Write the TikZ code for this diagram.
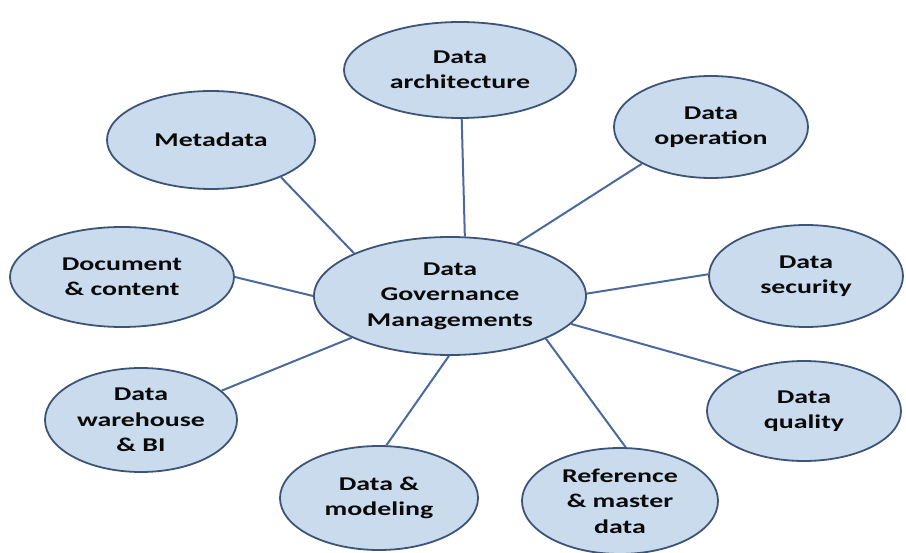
\documentclass[tikz,border=0pt]{standalone}
\usepackage{fontspec}
\newfontfamily\nodefont{Carlito}[FakeStretch=1.43]
\definecolor{ellfill}{HTML}{CADBEE}
\definecolor{elldraw}{HTML}{3D5477}
\definecolor{linkcol}{HTML}{4A6A9E}
\definecolor{txtcol}{HTML}{0A0A0A}
\tikzset{
  topic/.style={ellipse, draw=elldraw, fill=ellfill, line width=1.8pt, inner sep=0pt,
    align=center, text=txtcol, font=\nodefont\bfseries\fontsize{19.5}{25.5}\selectfont},
  link/.style={draw=linkcol, line width=2pt}
}
\usetikzlibrary{shapes.geometric}
\begin{document}
\begin{tikzpicture}[x=1pt,y=-1pt]
\useasboundingbox (0,0) rectangle (906,553);
\node[topic, minimum width=272pt, minimum height=118pt] (c) at (450,296) {Data\\Governance\\Managements};
\node[topic, minimum width=232pt, minimum height=96pt] (arch) at (460,70) {Data\\architecture};
\node[topic, minimum width=208pt, minimum height=98pt] (meta) at (211,140) {Metadata};
\node[topic, minimum width=194pt, minimum height=102pt] (oper) at (711,127) {Data\\operation};
\node[topic, minimum width=224pt, minimum height=100pt] (doc) at (122,277) {Document\\\& content};
\node[topic, minimum width=194pt, minimum height=102pt] (sec) at (806,276) {Data\\security};
\node[topic, minimum width=192pt, minimum height=104pt] (ware) at (141,420) {Data\\warehouse\\\& BI};
\node[topic, minimum width=194pt, minimum height=100pt] (qual) at (804,411) {Data\\quality};
\node[topic, minimum width=198pt, minimum height=104pt] (model) at (379,498) {Data \&\\modeling};
\node[topic, minimum width=196pt, minimum height=106pt] (ref) at (620,501) {Reference\\\& master\\data};
\draw[link] (c.156) -- (meta.-28);
\draw[link] (c.76) -- (arch.-88);
\draw[link] (c.38) -- (oper.208);
\draw[link] (c.180) -- (doc.0);
\draw[link] (c.1) -- (sec.179);
\draw[link] (c.203) -- (ware.20);
\draw[link] (c.-13) -- (qual.148);
\draw[link] (c.-91) -- (model.82);
\draw[link] (c.-24) -- (ref.84);
\end{tikzpicture}
\end{document}
